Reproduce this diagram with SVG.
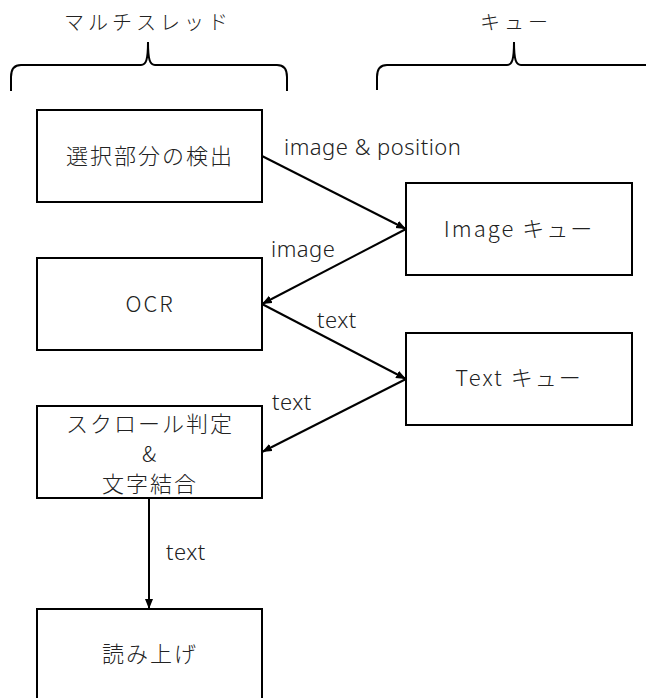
<svg xmlns="http://www.w3.org/2000/svg" width="646" height="698" viewBox="0 0 646 698">
  <style>
    .box { fill: #ffffff; stroke: #000000; stroke-width: 2; }
    .jp { font-family: "Noto Sans CJK JP", "Noto Sans", sans-serif; font-size: 22px; font-weight: 300; fill: #222222; text-anchor: middle; letter-spacing: 2px; }
    .title { font-family: "Noto Sans CJK JP", sans-serif; font-size: 20px; font-weight: 300; fill: #222222; text-anchor: middle; letter-spacing: 4px; }
    .lbl { font-family: "Noto Sans", "Noto Sans CJK JP", sans-serif; font-size: 22px; font-weight: 300; fill: #222222; letter-spacing: 0.5px; }
    .edge { fill: none; stroke: #000000; stroke-width: 2; }
    .brace { fill: none; stroke: #000000; stroke-width: 2; }
  </style>
  <defs>
    <marker id="arrow" markerUnits="userSpaceOnUse" markerWidth="11" markerHeight="9" refX="10" refY="4" orient="auto">
      <path d="M0,0 L10,4 L0,8 z" fill="#000000"/>
    </marker>
  </defs>

  <!-- column headings with braces -->
  <g id="heading-threads">
    <text class="title" x="148" y="30">マルチスレッド</text>
    <path class="brace" d="M11,91 L11,77 Q11,65 21,65 L141,65 C146,65 148,60 148,42 C148,60 150,65 155,65 L277,65 Q287,65 287,77 L287,91"/>
  </g>
  <g id="heading-queues">
    <text class="title" x="516" y="30">キュー</text>
    <path class="brace" d="M377,90 L377,77 Q377,65 387,65 L507,65 C512,65 514,60 514,42 C514,60 516,65 521,65 L660,65"/>
  </g>

  <!-- connectors -->
  <g id="connectors">
    <line class="edge" x1="262" y1="156" x2="406" y2="229" marker-end="url(#arrow)"/>
    <line class="edge" x1="406" y1="229" x2="262" y2="304" marker-end="url(#arrow)"/>
    <line class="edge" x1="262" y1="304" x2="406" y2="379" marker-end="url(#arrow)"/>
    <line class="edge" x1="406" y1="379" x2="262" y2="452" marker-end="url(#arrow)"/>
    <line class="edge" x1="149" y1="498" x2="149" y2="609" marker-end="url(#arrow)"/>
    <text class="lbl" x="284" y="155">image &amp; position</text>
    <text class="lbl" x="271" y="257">image</text>
    <text class="lbl" x="317" y="328">text</text>
    <text class="lbl" x="272" y="410">text</text>
    <text class="lbl" x="166" y="560">text</text>
  </g>

  <!-- processing nodes -->
  <g id="detect">
    <rect class="box" x="37" y="110" width="225" height="92"/>
    <text class="jp" x="150" y="164">選択部分の検出</text>
  </g>
  <g id="ocr">
    <rect class="box" x="37" y="258" width="225" height="92"/>
    <text class="jp" x="150" y="312" letter-spacing="0">OCR</text>
  </g>
  <g id="scroll-join">
    <rect class="box" x="37" y="406" width="225" height="92"/>
    <text class="jp" x="150" y="432">スクロール判定</text>
    <text class="jp" x="150" y="462">&amp;</text>
    <text class="jp" x="150" y="492">文字結合</text>
  </g>
  <g id="read-aloud">
    <rect class="box" x="37" y="609" width="225" height="110"/>
    <text class="jp" x="150" y="662">読み上げ</text>
  </g>

  <!-- queue nodes -->
  <g id="image-queue">
    <rect class="box" x="406" y="183" width="226" height="92"/>
    <text class="jp" x="519" y="237">Image キュー</text>
  </g>
  <g id="text-queue">
    <rect class="box" x="406" y="333" width="226" height="92"/>
    <text class="jp" x="519" y="386">Text キュー</text>
  </g>
</svg>
